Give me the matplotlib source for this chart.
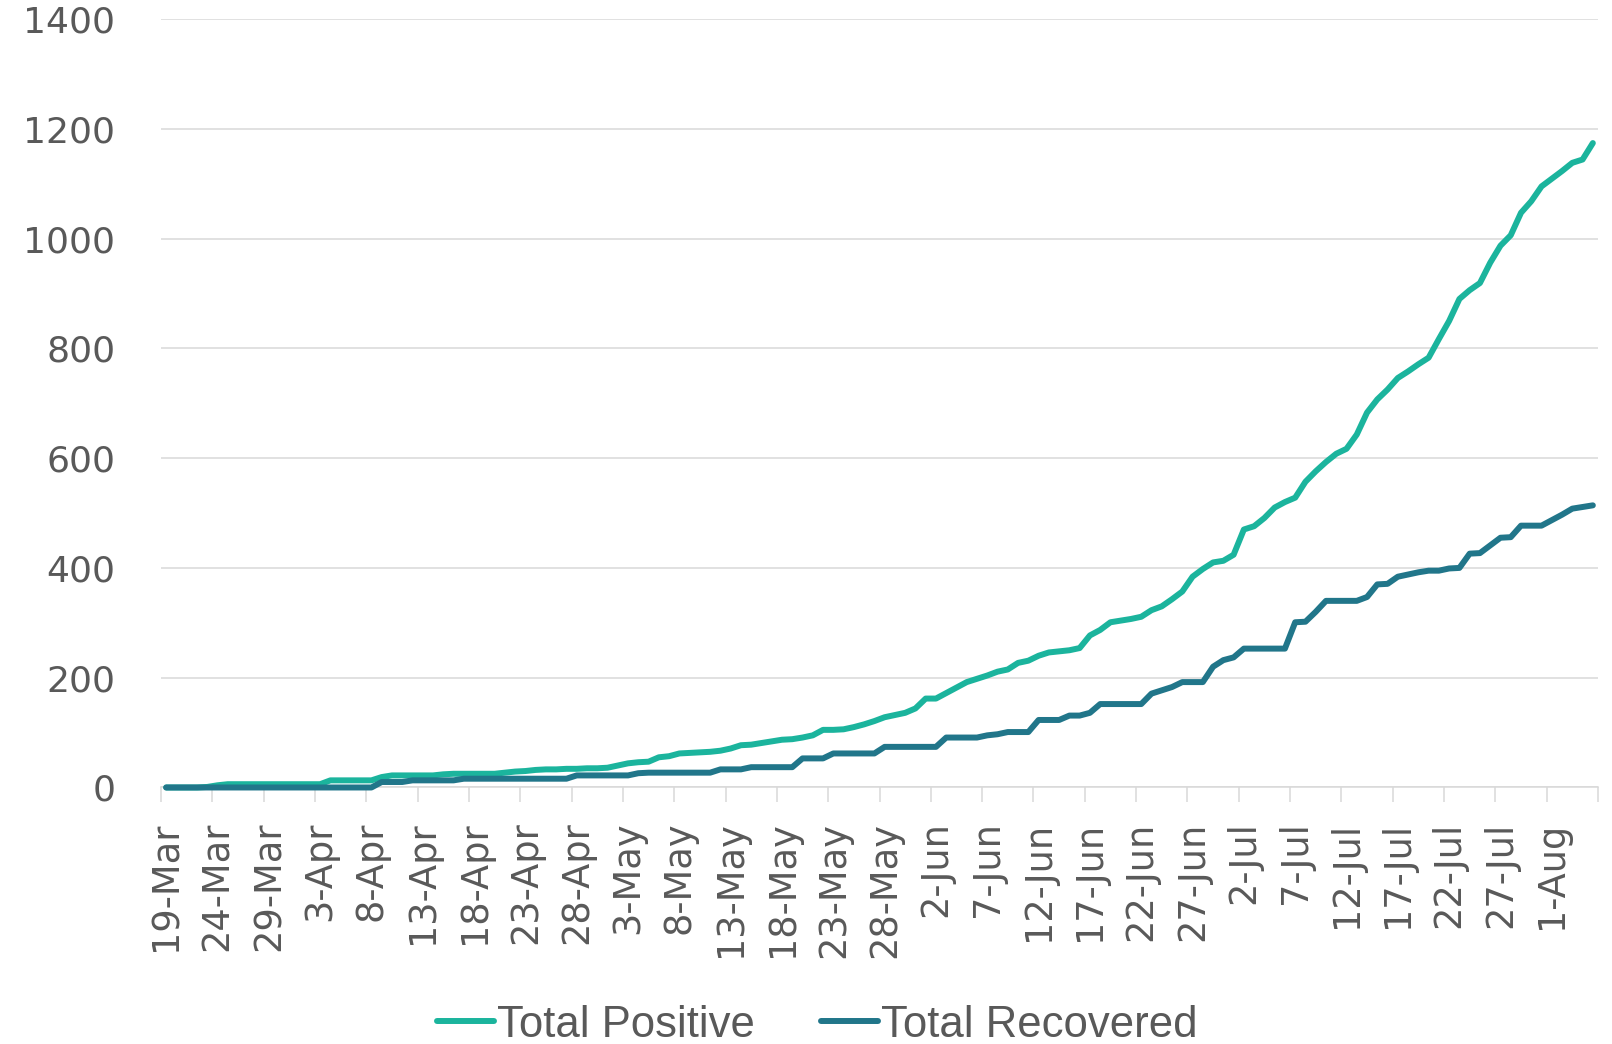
import matplotlib
matplotlib.use("Agg")
import matplotlib.pyplot as plt
import pandas as pd
from matplotlib import font_manager

# ---------------- data ----------------
start_date = "2020-03-19"
n_days = 140
dates = pd.date_range(start_date, periods=n_days, freq="D")

total_positive = [
    0, 0, 0, 0, 1, 4, 6, 6, 6, 6,
    6, 6, 6, 6, 6, 6, 13, 13, 13, 13,
    13, 19, 22, 22, 22, 22, 22, 24, 25, 25,
    25, 25, 25, 27, 29, 30, 32, 33, 33, 34,
    34, 35, 35, 36, 40, 44, 46, 47, 55, 57,
    62, 63, 64, 65, 67, 71, 77, 78, 81, 84,
    87, 88, 91, 95, 105, 105, 106, 110, 115, 121,
    128, 132, 136, 144, 162, 162, 172, 182, 192, 198,
    204, 211, 215, 227, 231, 240, 246, 248, 250, 254,
    277, 287, 301, 304, 307, 311, 323, 330, 343, 357,
    384, 398, 410, 413, 424, 470, 476, 491, 510, 520,
    528, 557, 576, 593, 608, 617, 643, 683, 707, 725,
    746, 758, 771, 783, 817, 850, 890, 906, 919, 956,
    987, 1006, 1047, 1068, 1095, 1109, 1123, 1138, 1144, 1174,
]

total_recovered = [
    0, 0, 0, 0, 0, 0, 0, 0, 0, 0,
    0, 0, 0, 0, 0, 0, 0, 0, 0, 0,
    0, 10, 10, 10, 13, 13, 13, 13, 13, 16,
    16, 16, 16, 16, 16, 16, 16, 16, 16, 16,
    22, 22, 22, 22, 22, 22, 26, 27, 27, 27,
    27, 27, 27, 27, 33, 33, 33, 37, 37, 37,
    37, 37, 53, 53, 53, 62, 62, 62, 62, 62,
    74, 74, 74, 74, 74, 74, 91, 91, 91, 91,
    95, 97, 101, 101, 101, 123, 123, 123, 131, 131,
    136, 152, 152, 152, 152, 152, 171, 177, 183, 192,
    192, 192, 220, 232, 237, 253, 253, 253, 253, 253,
    301, 302, 320, 340, 340, 340, 340, 347, 370, 371,
    384, 388, 392, 395, 395, 399, 400, 426, 427, 441,
    455, 456, 477, 477, 477, 487, 497, 508, 511, 514,
]

tick_labels = [
    "19-Mar", "24-Mar", "29-Mar", "3-Apr", "8-Apr", "13-Apr", "18-Apr",
    "23-Apr", "28-Apr", "3-May", "8-May", "13-May", "18-May", "23-May",
    "28-May", "2-Jun", "7-Jun", "12-Jun", "17-Jun", "22-Jun", "27-Jun",
    "2-Jul", "7-Jul", "12-Jul", "17-Jul", "22-Jul", "27-Jul", "1-Aug",
]
y_ticks = [0, 200, 400, 600, 800, 1000, 1200, 1400]
series_names = ["Total Positive", "Total Recovered"]

# ---------------- style ----------------
c_pos = "#1BB49D"
c_rec = "#21768A"
c_grid = "#D9D9D9"
c_text = "#595959"

avail = {f.name for f in font_manager.fontManager.ttflist}
tick_font = "DejaVu Sans"
legend_font = "Liberation Sans Narrow" if "Liberation Sans Narrow" in avail else "Liberation Sans"

fig = plt.figure(figsize=(16.12, 10.44), dpi=100)
ax = fig.add_axes([0.0999, 0.2457, 0.8914, 0.7361])

x = list(range(len(dates)))
lw = 4.3
lp, = ax.plot(x, total_positive, color=c_pos, lw=lw, solid_capstyle="round",
              solid_joinstyle="round", clip_on=False, zorder=3)
lr, = ax.plot(x, total_recovered, color=c_rec, lw=lw, solid_capstyle="round",
              solid_joinstyle="round", clip_on=False, zorder=3)

ax.set_xlim(-0.5, n_days - 0.5)
ax.set_ylim(0, 1400)

for s in ["top", "right", "left"]:
    ax.spines[s].set_visible(False)
ax.spines["bottom"].set_color(c_grid)
ax.spines["bottom"].set_linewidth(1.1)

ax.set_yticks(y_ticks)
ax.set_yticklabels([str(v) for v in y_ticks], fontfamily=tick_font)
ax.yaxis.grid(True, color=c_grid, lw=1.1)
ax.set_axisbelow(True)
ax.tick_params(axis="y", length=0, pad=33, labelsize=26, labelcolor=c_text)

major = [-0.5 + 5 * k for k in range(n_days // 5 + 1)]
ax.set_xticks(major)
ax.set_xticklabels([""] * len(major))
minor = [5 * k for k in range(len(tick_labels))]
ax.set_xticks(minor, minor=True)
ax.set_xticklabels(tick_labels, minor=True, rotation=90, fontfamily=tick_font)
ax.tick_params(axis="x", which="major", length=10.8, width=1.1, color=c_grid, direction="out")
ax.tick_params(axis="x", which="minor", length=0, pad=24.5, labelsize=26.5, labelcolor=c_text)

leg = fig.legend([lp, lr], series_names, loc="center", bbox_to_anchor=(0.507, 0.018),
                 ncol=2, frameon=False, handlelength=1.3, handletextpad=0.08,
                 columnspacing=1.5, prop={"family": legend_font, "size": 31.5})
for t in leg.get_texts():
    t.set_color(c_text)

fig.savefig("out.png", dpi=100)
